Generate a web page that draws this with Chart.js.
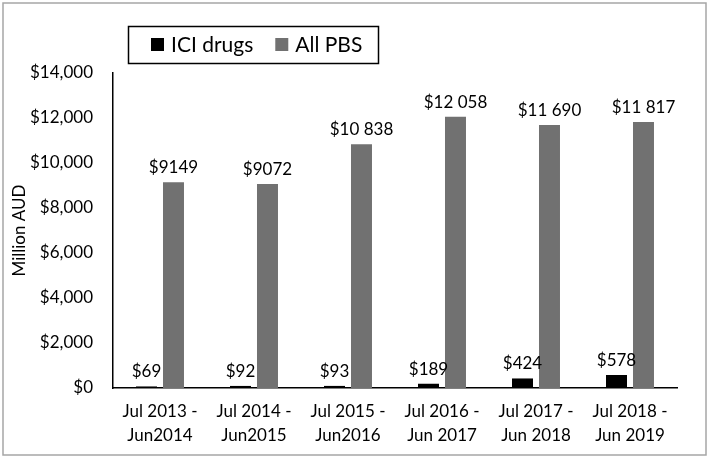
<!DOCTYPE html>
<html>
<head>
<meta charset="utf-8">
<script src="https://cdn.jsdelivr.net/npm/chart.js@4"></script>
<style>
  html, body { margin: 0; padding: 0; background: #fff; }
  #wrap { width: 709px; height: 458px; }
</style>
</head>
<body>
<div id="wrap"><canvas id="chart" width="709" height="458"></canvas></div>
<script>
// data
const periods = [
  ["Jul 2013 -", "Jun2014"],
  ["Jul 2014 -", "Jun2015"],
  ["Jul 2015 -", "Jun2016"],
  ["Jul 2016 -", "Jun 2017"],
  ["Jul 2017 -", "Jun 2018"],
  ["Jul 2018 -", "Jun 2019"]
];
const iciDrugs = [69, 92, 93, 189, 424, 578];
const allPbs = [9149, 9072, 10838, 12058, 11690, 11817];
const iciLabels = ["$69", "$92", "$93", "$189", "$424", "$578"];
const pbsLabels = ["$9149", "$9072", "$10 838", "$12 058", "$11 690", "$11 817"];
const yTicks = [0, 2000, 4000, 6000, 8000, 10000, 12000, 14000];

const FONT = "Lato, 'Open Sans', sans-serif";

// white page + thin grey frame
const frame = {
  id: "frame",
  beforeDraw(chart) {
    const c = chart.ctx;
    c.save();
    c.fillStyle = "#fff";
    c.fillRect(0, 0, chart.width, chart.height);
    c.strokeStyle = "#a6a6a6";
    c.lineWidth = 1.5;
    c.strokeRect(3, 3, chart.width - 6, chart.height - 6);
    c.restore();
  }
};

// value labels above bars
const barLabels = {
  id: "barLabels",
  afterDatasetsDraw(chart) {
    const c = chart.ctx;
    c.save();
    c.font = "17px " + FONT;
    c.fillStyle = "#000";
    c.textAlign = "center";
    c.textBaseline = "alphabetic";
    const texts = [iciLabels, pbsLabels];
    chart.data.datasets.forEach((ds, i) => {
      chart.getDatasetMeta(i).data.forEach((bar, j) => {
        c.fillText(texts[i][j], bar.x, bar.y - 9);
      });
    });
    c.restore();
  }
};

// boxed legend, top left like the original
const boxLegend = {
  id: "boxLegend",
  afterDraw(chart) {
    const c = chart.ctx;
    c.save();
    c.strokeStyle = "#000";
    c.lineWidth = 1.5;
    c.strokeRect(128.5, 26.5, 250, 37);
    c.font = "21px " + FONT;
    c.textBaseline = "middle";
    let x = 151;
    chart.data.datasets.forEach(ds => {
      c.fillStyle = ds.backgroundColor;
      c.fillRect(x, 38, 13, 13);
      c.fillStyle = "#000";
      c.fillText(ds.label, x + 20, 45);
      x += 20 + c.measureText(ds.label).width + 22;
    });
    c.restore();
  }
};

new Chart(document.getElementById("chart").getContext("2d"), {
  type: "bar",
  data: {
    labels: periods,
    datasets: [
      { label: "ICI drugs", data: iciDrugs, backgroundColor: "#000000" },
      { label: "All PBS", data: allPbs, backgroundColor: "#717171" }
    ]
  },
  options: {
    responsive: false,
    animation: false,
    devicePixelRatio: 1,
    categoryPercentage: 0.574,
    barPercentage: 0.778,
    layout: { padding: { left: 5, top: 73, right: 32, bottom: 5 } },
    plugins: {
      legend: { display: false },
      tooltip: { enabled: false }
    },
    scales: {
      x: {
        grid: { display: false, drawTicks: false },
        border: { display: true, color: "#000", width: 1.5 },
        ticks: {
          color: "#000",
          font: { family: FONT, size: 17, lineHeight: 1.45 },
          padding: 11,
          maxRotation: 0,
          autoSkip: false
        },
        afterFit(scale) { scale.height = 65; }
      },
      y: {
        min: 0,
        max: 14000,
        grid: { display: false, drawTicks: false },
        border: { display: true, color: "#000", width: 1.5 },
        afterBuildTicks(scale) { scale.ticks = yTicks.map(v => ({ value: v })); },
        ticks: {
          color: "#000",
          font: { family: FONT, size: 17 },
          padding: 20,
          callback: v => "$" + v.toLocaleString("en-US")
        },
        title: {
          display: true,
          text: "Million AUD",
          color: "#000",
          font: { family: FONT, size: 17 },
          padding: { top: 4, bottom: 0 }
        },
        afterFit(scale) { scale.width = 108; }
      }
    }
  },
  plugins: [frame, barLabels, boxLegend]
});
</script>
</body>
</html>
